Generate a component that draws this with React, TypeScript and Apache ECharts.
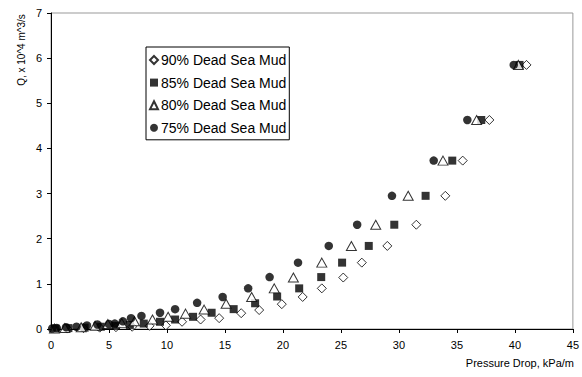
import React, { useEffect, useRef } from "react";
import * as echarts from "echarts";

const seriesNames = ["90% Dead Sea Mud", "85% Dead Sea Mud", "80% Dead Sea Mud", "75% Dead Sea Mud"];

const mud90: [number, number][] = [
  [41.0, 5.85], [37.8, 4.63], [35.5, 3.73], [34.0, 2.95], [31.5, 2.31], [29.0, 1.84],
  [26.8, 1.47], [25.2, 1.14], [23.35, 0.9], [21.7, 0.71], [19.9, 0.55], [17.95, 0.42],
  [16.4, 0.35], [14.5, 0.24], [12.9, 0.21], [11.3, 0.16], [9.9, 0.08], [8.5, 0.07],
  [7.0, 0.05], [5.6, 0.04], [4.2, 0.03], [2.8, 0.02], [1.4, 0.01], [0.3, 0.01],
];
const mud85: [number, number][] = [
  [40.4, 5.85], [37.1, 4.63], [34.6, 3.73], [32.3, 2.95], [29.6, 2.31], [27.4, 1.84],
  [25.1, 1.47], [23.3, 1.15], [21.4, 0.9], [19.5, 0.72], [17.6, 0.57], [15.75, 0.44],
  [13.85, 0.36], [12.25, 0.27], [10.7, 0.21], [9.4, 0.16], [8.0, 0.12], [6.8, 0.09],
  [5.6, 0.07], [4.3, 0.05], [2.9, 0.03], [1.5, 0.02], [0.4, 0.01],
];
const mud80: [number, number][] = [
  [40.3, 5.85], [36.7, 4.63], [33.8, 3.73], [30.8, 2.95], [28.0, 2.31], [25.9, 1.84],
  [23.35, 1.47], [20.9, 1.14], [19.25, 0.9], [17.3, 0.71], [15.1, 0.56], [13.2, 0.43],
  [11.6, 0.34], [10.1, 0.27], [8.75, 0.21], [7.2, 0.17], [6.1, 0.13], [4.9, 0.11],
  [3.8, 0.07], [2.6, 0.04], [1.2, 0.02], [0.3, 0.01],
];
const mud75: [number, number][] = [
  [39.9, 5.85], [35.9, 4.63], [33.0, 3.73], [29.4, 2.95], [26.4, 2.31], [23.95, 1.84],
  [21.3, 1.47], [18.85, 1.15], [17.0, 0.9], [14.8, 0.71], [12.6, 0.58], [10.7, 0.44],
  [9.4, 0.36], [7.8, 0.29], [6.9, 0.24], [6.2, 0.17], [5.5, 0.12], [5.0, 0.11],
  [4.0, 0.1], [3.1, 0.08], [2.2, 0.05], [1.3, 0.04], [0.5, 0.02], [0.1, 0.01],
];

const xTicks = { min: 0, max: 45, interval: 5 };
const yTicks = { min: 0, max: 7, interval: 1 };

const FONT = "'Liberation Sans', Arial, sans-serif";

export default function App() {
  const ref = useRef<HTMLDivElement>(null);
  useEffect(() => {
    if (!ref.current) return;
    const chart = echarts.init(ref.current, undefined, { renderer: "svg" });
    const hollow = { color: "#ffffff", borderColor: "#000000", borderWidth: 1 };
    const solid = { color: "#000000", borderColor: "#000000", borderWidth: 0 };
    chart.setOption({
      animation: false,
      backgroundColor: "#ffffff",
      grid: {
        left: 51, right: 8, top: 13, bottom: 48,
        show: true, borderColor: "#999999", borderWidth: 1, backgroundColor: "transparent",
      },
      legend: {
        orient: "vertical",
        left: 146,
        top: 47,
        padding: [6, 3, 5, 3],
        itemGap: 8.6,
        itemWidth: 8,
        itemHeight: 8,
        borderColor: "#000000",
        borderWidth: 1,
        backgroundColor: "#ffffff",
        textStyle: { fontFamily: FONT, fontSize: 14, color: "#000000", padding: [0, 0, 0, -2] },
        data: seriesNames,
      },
      xAxis: {
        type: "value",
        ...xTicks,
        splitLine: { show: false },
        axisLine: { onZero: false, lineStyle: { color: "#000000", width: 1 } },
        axisTick: { show: true, length: 4, lineStyle: { color: "#000000" } },
        axisLabel: { fontFamily: FONT, fontSize: 11, color: "#000000", margin: 10 },
      },
      yAxis: {
        type: "value",
        ...yTicks,
        splitLine: { show: false },
        axisLine: { show: true, onZero: false, lineStyle: { color: "#000000", width: 1 } },
        axisTick: { show: true, length: 4, lineStyle: { color: "#000000" } },
        axisLabel: { fontFamily: FONT, fontSize: 11, color: "#000000", margin: 9 },
      },
      graphic: [
        {
          type: "text",
          x: 21,
          y: 50,
          rotation: Math.PI / 2,
          style: {
            text: "Q, x 10^4 m^3/s",
            fontFamily: FONT,
            fontSize: 10,
            fill: "#000000",
            align: "center",
            verticalAlign: "middle",
          },
        },
        {
          type: "text",
          right: 8,
          top: 357,
          style: {
            text: "Pressure Drop, kPa/m",
            fontFamily: FONT,
            fontSize: 11,
            fill: "#000000",
          },
        },
      ],
      series: [
        { name: seriesNames[0], type: "scatter", data: mud90, symbol: "diamond", symbolSize: 9, itemStyle: hollow },
        { name: seriesNames[1], type: "scatter", data: mud85, symbol: "rect", symbolSize: 8, itemStyle: solid },
        { name: seriesNames[2], type: "scatter", data: mud80, symbol: "triangle", symbolSize: [10, 9], itemStyle: hollow },
        { name: seriesNames[3], type: "scatter", data: mud75, symbol: "circle", symbolSize: 8.5, itemStyle: solid },
      ],
    });
    return () => chart.dispose();
  }, []);
  return <div ref={ref} style={{ width: 582, height: 377, position: "absolute", left: 0, top: 0 }} />;
}
